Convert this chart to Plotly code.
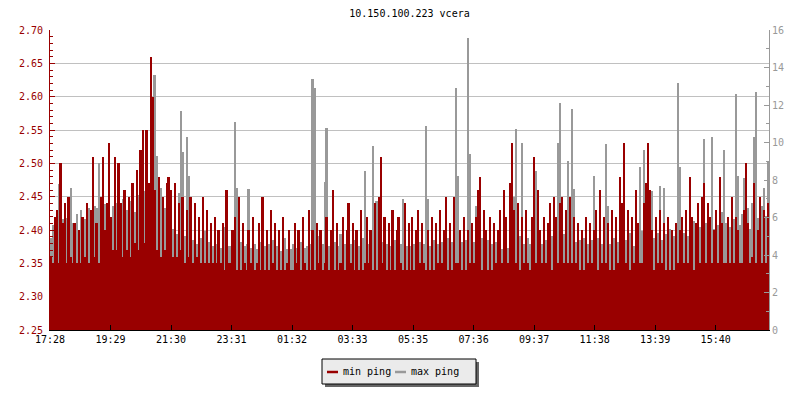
import plotly.graph_objects as go

title_text = "10.150.100.223 vcera"
tick_labels = ["17:28", "19:29", "21:30", "23:31", "01:32", "03:33",
               "05:35", "07:36", "09:37", "11:38", "13:39", "15:40"]
tick_step_min = 121.2      # minutes between labelled ticks
sample_min = 4             # minutes per sample
span_min = 1440            # 24 hours shown

# min ping (ms), left axis
min_ping = [
    2.36,2.35,2.42,2.43,2.35,2.50,2.41,2.44,2.35,2.45,2.36,2.35,2.41,2.35,2.40,2.35,2.42,2.36,2.44,2.35,2.43,2.51,2.36,2.41,2.35,2.45,2.51,2.40,2.44,2.53,
    2.42,2.37,2.51,2.37,2.50,2.44,2.36,2.46,2.37,2.45,2.36,2.47,2.38,2.49,2.37,2.52,2.55,2.38,2.55,2.47,2.66,2.60,2.46,2.37,2.48,2.36,2.45,2.37,2.47,2.48,
    2.46,2.36,2.47,2.36,2.44,2.37,2.45,2.35,2.43,2.36,2.45,2.35,2.44,2.36,2.42,2.35,2.45,2.35,2.43,2.35,2.41,2.35,2.42,2.35,2.40,2.35,2.41,2.34,2.46,2.35,
    2.35,2.40,2.42,2.34,2.45,2.34,2.41,2.35,2.34,2.40,2.35,2.42,2.34,2.35,2.41,2.34,2.45,2.34,2.40,2.34,2.43,2.35,2.41,2.34,2.40,2.34,2.42,2.34,2.35,2.40,
    2.34,2.34,2.41,2.35,2.40,2.34,2.42,2.35,2.34,2.43,2.34,2.40,2.34,2.41,2.35,2.40,2.34,2.35,2.42,2.34,2.40,2.46,2.34,2.41,2.34,2.35,2.42,2.34,2.40,2.44,
    2.35,2.41,2.34,2.40,2.34,2.43,2.34,2.35,2.42,2.35,2.40,2.34,2.44,2.34,2.45,2.51,2.35,2.42,2.34,2.41,2.34,2.43,2.34,2.40,2.42,2.35,2.34,2.44,2.34,2.41,
    2.34,2.42,2.34,2.40,2.43,2.35,2.41,2.35,2.34,2.40,2.34,2.42,2.34,2.41,2.35,2.43,2.35,2.40,2.45,2.34,2.41,2.34,2.45,2.35,2.35,2.40,2.34,2.42,2.34,2.40,
    2.35,2.41,2.35,2.42,2.46,2.48,2.34,2.43,2.40,2.34,2.42,2.34,2.41,2.35,2.40,2.43,2.35,2.46,2.42,2.35,2.47,2.53,2.43,2.35,2.44,2.34,2.42,2.35,2.43,2.35,
    2.34,2.42,2.51,2.35,2.46,2.40,2.35,2.42,2.35,2.41,2.44,2.34,2.45,2.42,2.35,2.44,2.45,2.35,2.43,2.35,2.45,2.35,2.42,2.35,2.41,2.34,2.40,2.34,2.42,2.35,
    2.41,2.35,2.40,2.43,2.34,2.46,2.35,2.42,2.35,2.41,2.34,2.43,2.34,2.42,2.35,2.48,2.44,2.53,2.35,2.43,2.34,2.42,2.35,2.46,2.41,2.35,2.35,2.44,2.47,2.53,
    2.46,2.40,2.34,2.42,2.35,2.43,2.35,2.41,2.34,2.42,2.34,2.40,2.34,2.41,2.35,2.40,2.42,2.35,2.43,2.35,2.48,2.42,2.34,2.41,2.44,2.35,2.45,2.47,2.35,2.44,
    2.42,2.35,2.40,2.43,2.35,2.48,2.41,2.35,2.35,2.42,2.35,2.45,2.35,2.42,2.40,2.35,2.35,2.43,2.50,2.41,2.35,2.36,2.47,2.35,2.40,2.45,2.35,2.43,2.35,2.44,
]

# max ping (ms), right axis
max_ping = [
    4.9,5.6,4.6,5.2,7.8,4.8,5.9,4.6,6.0,4.9,7.6,5.7,5.0,6.2,5.2,6.4,4.9,5.9,5.1,6.5,5.5,5.2,6.6,6.5,8.9,5.8,5.4,6.7,5.6,6.1,
    5.9,6.6,5.2,6.8,5.5,6.2,7.0,5.6,6.4,5.8,6.9,5.4,6.3,5.9,7.2,6.0,6.5,7.4,5.8,6.6,7.0,6.2,13.6,9.3,6.1,7.6,5.7,6.5,5.9,6.3,
    6.2,5.4,6.0,5.1,7.3,11.7,9.5,5.0,10.3,8.2,5.3,4.8,5.6,4.6,5.2,4.9,4.6,5.3,4.8,4.7,5.0,4.5,4.8,4.6,5.0,4.4,4.7,5.5,6.8,4.5,
    4.5,4.3,11.1,7.6,4.4,4.7,4.2,4.5,4.6,7.5,4.4,4.2,4.6,4.3,4.4,4.7,4.2,4.5,4.1,4.6,4.3,4.8,4.2,4.5,4.7,4.2,4.4,4.9,4.3,4.6,
    4.3,4.6,4.1,4.4,4.2,4.7,4.1,4.4,4.5,4.2,4.6,13.4,12.9,4.5,5.0,4.3,4.6,7.9,10.8,4.5,4.2,4.4,4.7,4.3,4.5,5.1,4.2,4.6,4.3,4.5,
    4.6,4.3,4.8,4.4,4.5,4.2,4.9,8.5,4.3,4.6,4.4,9.8,4.4,6.9,4.5,4.3,4.7,4.4,4.6,4.2,4.5,4.4,4.8,4.3,4.6,4.6,7.0,4.4,4.5,4.3,
    4.5,4.2,4.6,4.4,4.3,4.7,4.4,4.6,10.9,7.0,4.5,4.3,4.8,4.4,4.6,4.2,4.7,4.4,4.3,4.9,4.4,4.7,4.5,12.9,8.2,4.6,4.7,4.4,4.8,15.6,
    9.4,4.5,4.7,6.6,4.4,4.5,4.9,4.4,4.6,4.8,4.3,4.6,4.3,4.7,4.4,4.6,4.3,4.5,4.8,4.4,4.6,4.5,7.1,10.7,4.6,5.0,10.0,4.6,4.4,4.9,
    4.6,4.3,4.6,8.5,4.5,4.9,4.6,4.4,4.8,4.4,4.6,5.0,4.5,4.7,10.0,12.1,4.6,5.1,4.6,9.0,4.8,11.8,7.5,4.7,4.4,4.8,4.6,4.9,4.4,4.6,
    4.4,4.8,8.2,4.5,4.9,4.4,4.6,4.4,9.9,6.6,4.6,4.4,4.9,4.5,4.7,4.5,5.0,4.6,4.8,4.5,5.2,4.6,4.5,5.1,4.7,8.7,5.3,9.6,4.8,5.0,
    4.6,7.4,4.9,4.5,5.2,7.7,4.8,7.6,5.1,4.6,5.4,4.9,5.0,4.4,13.2,8.7,4.7,5.2,4.5,5.0,4.8,5.3,5.8,4.9,6.2,5.5,6.0,10.2,5.7,6.4,
    5.8,10.3,5.4,6.1,5.6,5.2,6.3,9.6,5.7,6.0,5.5,6.4,5.9,12.6,8.2,5.6,6.2,8.1,5.8,6.5,5.4,6.8,10.3,12.7,6.0,5.7,6.6,7.6,6.1,9.0,
]

RED = "#990000"
GRAY = "#999999"
FONT = "DejaVu Sans Mono"

x_min = [i * sample_min + sample_min / 2 for i in range(len(min_ping))]
x_max = [i * sample_min + sample_min / 2 for i in range(len(max_ping))]
tick_vals = [k * tick_step_min for k in range(len(tick_labels))]

fig = go.Figure()
fig.add_trace(go.Bar(x=x_max, y=max_ping, width=sample_min, yaxis="y",
                     marker=dict(color=GRAY, line=dict(width=0)),
                     name="max ping", showlegend=False))
fig.add_trace(go.Bar(x=x_min, y=min_ping, width=sample_min, yaxis="y2",
                     marker=dict(color=RED, line=dict(width=0)),
                     name="min ping", showlegend=False))

# plot area geometry (pixels) for the hand-drawn legend
L, R, T, B = 50, 769, 30, 330
def px(p):
    return (p - L) / (R - L)
def py(p):
    return (B - p) / (B - T)

shapes = [
    dict(type="rect", xref="paper", yref="paper", x0=px(325), x1=px(479), y0=py(362), y1=py(387),
         fillcolor="#666666", line=dict(width=0), layer="above"),
    dict(type="rect", xref="paper", yref="paper", x0=px(322), x1=px(476), y0=py(359), y1=py(384),
         fillcolor="#ebebeb", line=dict(color="black", width=1), layer="above"),
    dict(type="line", xref="paper", yref="paper", x0=px(327), x1=px(338), y0=py(372), y1=py(372),
         line=dict(color=RED, width=2.5), layer="above"),
    dict(type="line", xref="paper", yref="paper", x0=px(395), x1=px(406), y0=py(372), y1=py(372),
         line=dict(color=GRAY, width=2.5), layer="above"),
]
annotations = [
    dict(text="min ping", xref="paper", yref="paper", x=px(341), y=py(371.5), xanchor="left",
         yanchor="middle", showarrow=False, font=dict(family=FONT, size=10, color="black")),
    dict(text="max ping", xref="paper", yref="paper", x=px(409), y=py(371.5), xanchor="left",
         yanchor="middle", showarrow=False, font=dict(family=FONT, size=10, color="black")),
]

fig.update_layout(
    width=800, height=400,
    margin=dict(l=L, r=800 - R, t=T, b=400 - B, pad=0, autoexpand=False),
    paper_bgcolor="white", plot_bgcolor="white",
    barmode="overlay", bargap=0,
    font=dict(family=FONT, size=10, color="black"),
    title=dict(text=title_text, x=0.5, xref="paper", xanchor="center", y=1 - 13 / 400,
               yanchor="middle", font=dict(family=FONT, size=10, color="black")),
    showlegend=False,
    xaxis=dict(range=[0, span_min], tickvals=tick_vals, ticktext=tick_labels,
               ticks="inside", ticklen=5, tickcolor="black", showline=True, linecolor="black",
               linewidth=1, showgrid=False, zeroline=False, automargin=False,
               tickfont=dict(family=FONT, size=10, color="black")),
    yaxis=dict(range=[0, 16], side="right", dtick=2, tick0=0, ticks="inside", ticklen=5,
               tickcolor=GRAY, showline=True, linecolor=GRAY, linewidth=1, showgrid=False,
               zeroline=False, automargin=False, tickfont=dict(family=FONT, size=10, color=GRAY),
               minor=dict(dtick=1, ticks="inside", ticklen=3, tickcolor=GRAY, showgrid=False)),
    yaxis2=dict(range=[2.25, 2.70], overlaying="y", side="left", dtick=0.05, tick0=2.25,
                tickformat=".2f", ticks="inside", ticklen=5, tickcolor=RED, showline=True,
                linecolor=RED, linewidth=1, showgrid=True, gridcolor="#c0c0c0", gridwidth=1,
                zeroline=False, ticklabelstandoff=4, automargin=False,
                tickfont=dict(family=FONT, size=10, color=RED),
                minor=dict(dtick=0.01, ticks="inside", ticklen=3, tickcolor=RED, showgrid=False)),
    shapes=shapes, annotations=annotations,
)

fig.write_html("out.html", config={"displayModeBar": False},
               post_script="document.body.style.margin='0';document.body.style.overflow='hidden';")
